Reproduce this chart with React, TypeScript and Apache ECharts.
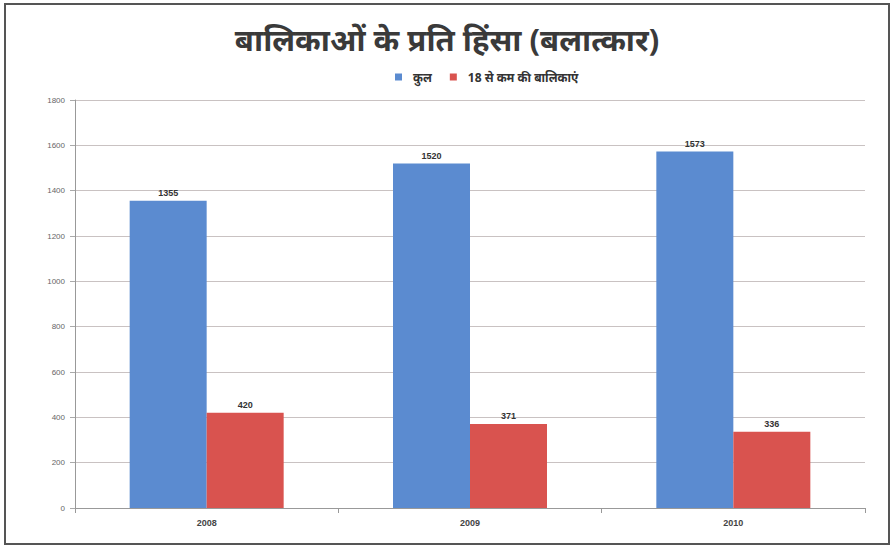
import React, { useEffect, useRef } from "react";
import * as echarts from "echarts";

const categories = ["2008", "2009", "2010"];
const totalValues = [1355, 1520, 1573];
const under18Values = [420, 371, 336];
const seriesNames = ["कुल", "18 से कम की बालिकाएं"];
const titleText = "बालिकाओं के प्रति हिंसा (बलात्कार)";

const FONT = "'Noto Sans', 'Noto Sans Devanagari', 'Lohit Devanagari', 'DejaVu Sans', sans-serif";
const NUMFONT = "'Liberation Sans', Arial, sans-serif";

export default function App() {
  const ref = useRef<HTMLDivElement>(null);
  useEffect(() => {
    if (!ref.current) return;
    const chart = echarts.init(ref.current, undefined, { renderer: "svg" });
    const labelStyle = {
      show: true,
      position: "top" as const,
      fontSize: 9,
      fontWeight: "bold" as const,
      color: "#333",
      fontFamily: NUMFONT,
      distance: 3,
    };
    chart.setOption({
      animation: false,
      backgroundColor: "#fff",
      title: {
        text: titleText,
        left: "center",
        top: 18,
        textStyle: { fontSize: 31, fontWeight: "bold", color: "#3a3a3a", fontFamily: FONT },
      },
      legend: {
        top: 66,
        left: 390,
        itemWidth: 7,
        itemHeight: 7,
        itemGap: 18,
        icon: "rect",
        textStyle: { fontSize: 12, fontWeight: "bold", color: "#333", fontFamily: FONT, padding: [0, 0, 0, 6] },
        data: seriesNames,
      },
      graphic: [
        {
          type: "rect",
          shape: { x: 5, y: 4, width: 884, height: 540 },
          style: { fill: "none", stroke: "#555", lineWidth: 2 },
        },
      ],
      grid: { left: 75, right: 29, top: 100, bottom: 39 },
      xAxis: {
        type: "category",
        data: categories,
        axisLine: { lineStyle: { color: "#999" } },
        axisTick: { show: true, alignWithLabel: false, length: 5, lineStyle: { color: "#999" } },
        axisLabel: {
          fontSize: 9,
          fontWeight: "bold",
          color: "#444",
          margin: 10,
          fontFamily: NUMFONT,
        },
      },
      yAxis: {
        type: "value",
        min: 0,
        max: 1800,
        interval: 200,
        axisLine: { show: true, lineStyle: { color: "#999" } },
        axisTick: { show: true, inside: false, length: 5, lineStyle: { color: "#aaa" } },
        axisLabel: {
          fontSize: 8,
          color: "#666",
          margin: 10,
          fontFamily: NUMFONT,
          formatter: (v: number) => String(v),
        },
        splitLine: { lineStyle: { color: "#c9c2c2", width: 1 } },
      },
      series: [
        {
          name: seriesNames[0],
          type: "bar",
          data: totalValues,
          barWidth: 77,
          barGap: "0%",
          itemStyle: { color: "#5b8bd0" },
          label: labelStyle,
        },
        {
          name: seriesNames[1],
          type: "bar",
          data: under18Values,
          barWidth: 77,
          barGap: "0%",
          itemStyle: { color: "#d9534f" },
          label: labelStyle,
        },
      ],
    });
    return () => chart.dispose();
  }, []);
  return (
    <div
      ref={ref}
      style={{ position: "fixed", left: 0, top: 0, width: 894, height: 547 }}
    />
  );
}
